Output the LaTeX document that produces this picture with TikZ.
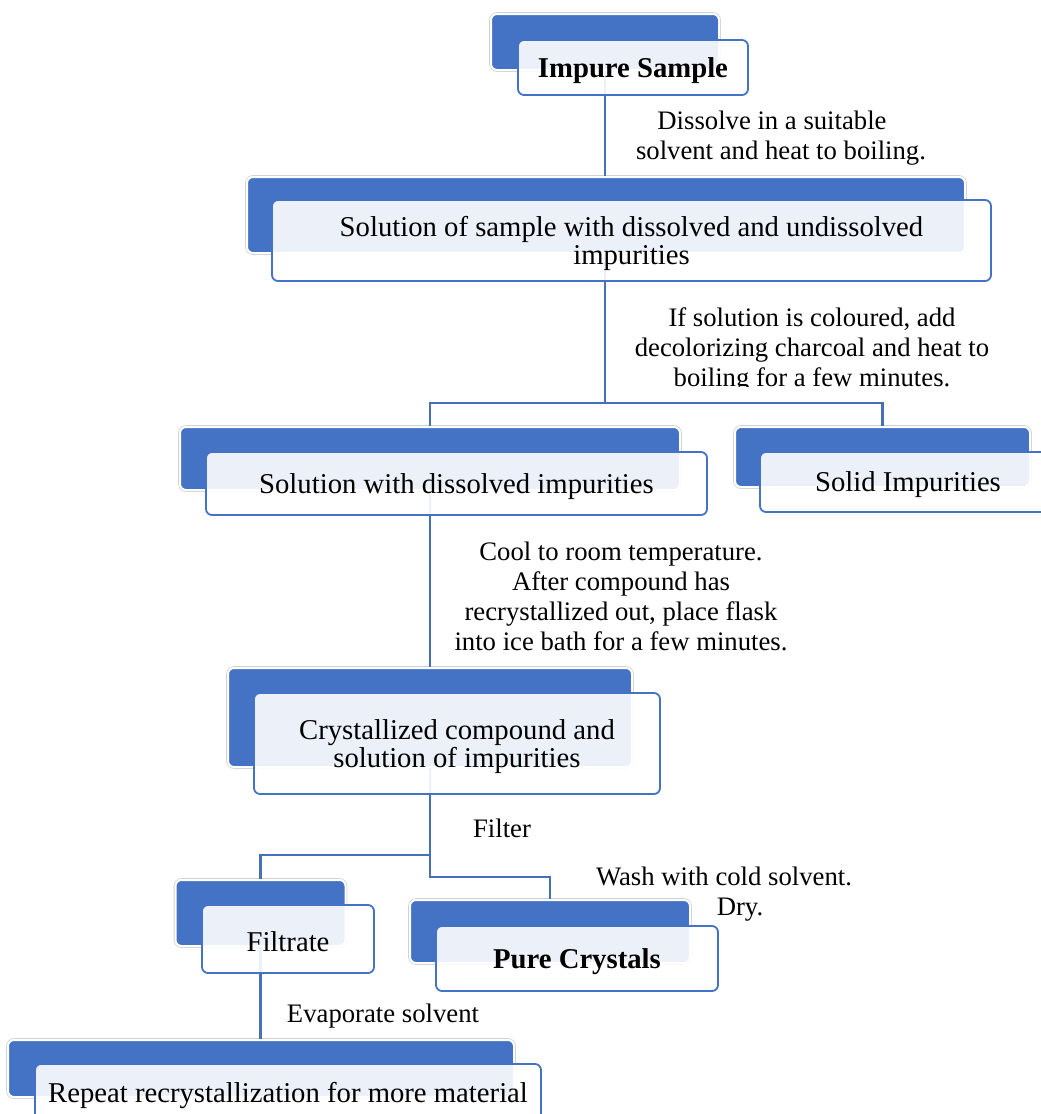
\documentclass[tikz,border=0pt]{standalone}
\usepackage{fontspec}
\setmainfont{Liberation Serif}
\definecolor{accent}{HTML}{4472C4}
\definecolor{linkc}{HTML}{4770BA}
\begin{document}
\begin{tikzpicture}[x=1pt,y=-1pt,
  backbox/.style={draw=white, line width=2pt, fill=accent, rounded corners=6pt, inner sep=0pt,
    preaction={draw=black!18, line width=3.6pt}},
  frontbox/.style={draw=accent, line width=1.8pt, fill=white, fill opacity=0.9,
    rounded corners=6pt, inner sep=0pt},
  boxtext/.style={draw=none, fill=none, fill opacity=1, text opacity=1, inner sep=0pt,
    align=center, yshift=-3pt, font=\fontsize{28.7}{28}\selectfont},
  link/.style={draw=linkc, line width=2.4pt},
  note/.style={align=center, font=\fontsize{26.7}{30}\selectfont, inner sep=0pt}]
\useasboundingbox (0,0) rectangle (1041,1114);

% back boxes
\node[backbox, minimum width=228pt, minimum height=56pt] (b1back) at (605,42) {};
\node[backbox, minimum width=718pt, minimum height=76pt] (b2back) at (606,215) {};
\node[backbox, minimum width=500pt, minimum height=63pt] (b3back) at (430,458.5) {};
\node[backbox, minimum width=295pt, minimum height=60pt] (b4back) at (882.5,457) {};
\node[backbox, minimum width=404pt, minimum height=99pt] (b5back) at (430,717.5) {};
\node[backbox, minimum width=170pt, minimum height=66pt] (b6back) at (260.5,913) {};
\node[backbox, minimum width=280pt, minimum height=63pt] (b7back) at (550,931.5) {};
\node[backbox, minimum width=506pt, minimum height=57pt] (b8back) at (261,1068.5) {};

% connectors
\coordinate (j1) at (605,403);
\coordinate (j2) at (430,855);
\coordinate (j3) at (430,877);
\draw[link] (b1back.south) -- (b1back.south |- b2back.north);
\draw[link] (b2back.south -| j1) -- (j1) -| (b3back.north);
\draw[link] (j1) -| (b4back.north);
\draw[link] (b3back.south) -- (b3back.south |- b5back.north);
\draw[link] (b5back.south) -- (j2) -| (b6back.north);
\draw[link] (j2) -- (j3) -| (b7back.north);
\draw[link] (b6back.south) -- (b6back.south |- b8back.north);

% notes
\node[note] (n1) at (781,138) {Dissolve in a suitable\hspace*{18pt}\\solvent and heat to boiling.};
\begin{scope}
\clip (560,290) rectangle (1041,386);
\node[note] (n2) at (812,349.5) {If solution is coloured, add\\decolorizing charcoal and heat to\\boiling for a few minutes.};
\end{scope}
\node[note] (n3) at (621,596) {Cool to room temperature.\\After compound has\\recrystallized out, place flask\\into ice bath for a few minutes.};
\node[note, anchor=base] (n4) at (502,837) {Filter};
\node[note] (n5) at (724,894) {Wash with cold solvent.\\\hspace*{32pt}Dry.};
\begin{scope}
\clip (260,990) rectangle (560,1027.5);
\node[note, anchor=base] (n6) at (383,1022.5) {Evaporate solvent};
\end{scope}

% front boxes
\node[frontbox, minimum width=230pt, minimum height=55pt,
  label={[boxtext]center:\bfseries Impure Sample}] (b1) at (633,67.5) {};
\node[frontbox, minimum width=719pt, minimum height=81pt,
  label={[boxtext]center:Solution of sample with dissolved and undissolved\\impurities}] (b2) at (631.5,240.5) {};
\node[frontbox, minimum width=501pt, minimum height=63pt,
  label={[boxtext]center:Solution with dissolved impurities}] (b3) at (456.5,483.5) {};
\node[frontbox, minimum width=296pt, minimum height=60pt,
  label={[boxtext]center:Solid Impurities}] (b4) at (908,482) {};
\node[frontbox, minimum width=406pt, minimum height=101pt,
  label={[boxtext]center:Crystallized compound and\\solution of impurities}] (b5) at (457,743.5) {};
\node[frontbox, minimum width=172pt, minimum height=68pt,
  label={[boxtext]center:Filtrate}] (b6) at (288,939) {};
\node[frontbox, minimum width=282pt, minimum height=65pt,
  label={[boxtext]center:\bfseries Pure Crystals}] (b7) at (577,958.5) {};
\node[frontbox, minimum width=506pt, minimum height=56pt,
  label={[boxtext]center:Repeat recrystallization for more material}] (b8) at (288,1092) {};
\end{tikzpicture}
\end{document}
